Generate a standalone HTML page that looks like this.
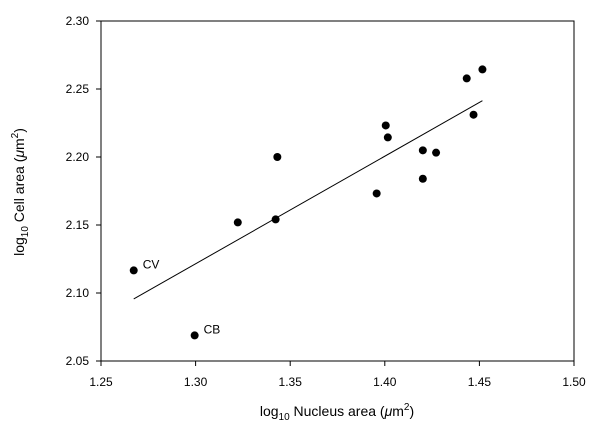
<!DOCTYPE html>
<html><head><meta charset="utf-8"><style>
body{margin:0;background:#fff;width:602px;height:439px;overflow:hidden}
svg{font-family:"Liberation Sans",Arial,sans-serif}
</style></head><body>
<svg width="602" height="439">
<g id="axes"></g>
<g id="marks"></g>
<text x="337" y="416" font-size="14" text-anchor="middle">log<tspan font-size="10" dy="4">10</tspan><tspan dy="-4"> Nucleus area (</tspan><tspan font-style="italic">μ</tspan>m<tspan font-size="10" dy="-6">2</tspan><tspan dy="6">)</tspan></text>
<text transform="translate(24,192) rotate(-90)" font-size="14" text-anchor="middle">log<tspan font-size="10" dy="4">10</tspan><tspan dy="-4"> Cell area (</tspan><tspan font-style="italic">μ</tspan>m<tspan font-size="10" dy="-6">2</tspan><tspan dy="6">)</tspan></text>
</svg>
<script>
const xVals=[1.2673,1.2995,1.3223,1.3423,1.3432,1.3957,1.4005,1.4016,1.4201,1.4201,1.4271,1.4433,1.4469,1.4516];
const yVals=[2.1166,2.0688,2.1519,2.1541,2.2000,2.1732,2.2232,2.2144,2.2049,2.1840,2.2032,2.2578,2.2311,2.2644];
const pointLabels=["CV","CB","","","","","","","","","","","",""];
const fitX=[1.2673,1.4516];
const fitY=[2.0956,2.2414];
const xTicks=[1.25,1.30,1.35,1.40,1.45,1.50];
const yTicks=[2.05,2.10,2.15,2.20,2.25,2.30];
const L=101,R=574,T=21,B=361;
const sx=v=>L+(v-1.25)/0.25*(R-L);
const sy=v=>B-(v-2.05)/0.25*(B-T);
const NS="http://www.w3.org/2000/svg";
const ax=document.getElementById('axes'),mk=document.getElementById('marks');
function mkEl(t,a,p){const e=document.createElementNS(NS,t);for(const k in a)e.setAttribute(k,a[k]);p.appendChild(e);return e;}
const box=mkEl('rect',{x:L,y:T,width:R-L,height:B-T,fill:'none',stroke:'#000','stroke-width':1},ax);


xTicks.forEach(v=>{
 const l=mkEl('line',{x1:sx(v),x2:sx(v),y1:B,y2:B+5,stroke:'#000'},ax);
 
 
 const t=mkEl('text',{x:sx(v),y:B+25,'font-size':12,'text-anchor':'middle'},ax);
 t.textContent=v.toFixed(2);
 
 
});
yTicks.forEach(v=>{
 const l=mkEl('line',{x1:L-5,x2:L,y1:sy(v),y2:sy(v),stroke:'#000'},ax);
 
 
 const t=mkEl('text',{x:L-12,y:sy(v)+4,'font-size':12,'text-anchor':'end'},ax);
 t.textContent=v.toFixed(2);
 
 
});
const fl=mkEl('line',{x1:sx(fitX[0]),y1:sy(fitY[0]),x2:sx(fitX[1]),y2:sy(fitY[1]),stroke:'#000','stroke-width':1},mk);


xVals.forEach((v,i)=>{
 const c=mkEl('circle',{cx:sx(v),cy:sy(yVals[i]),r:4,fill:'#000'},mk);
 
 
 if(pointLabels[i]){
  const t=mkEl('text',{x:sx(v)+9,y:sy(yVals[i])-2,'font-size':12},mk);
  t.textContent=pointLabels[i];
  
  
 }
});
</script>
</body></html>
